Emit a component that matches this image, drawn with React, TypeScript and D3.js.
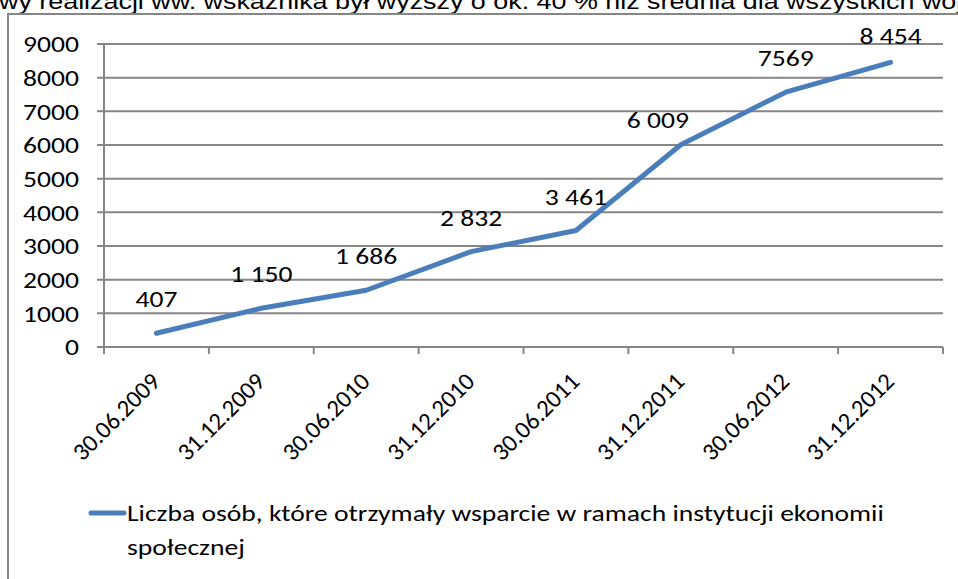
import React from "react";
import * as d3 from "d3";

const categories = [
  "30.06.2009",
  "31.12.2009",
  "30.06.2010",
  "31.12.2010",
  "30.06.2011",
  "31.12.2011",
  "30.06.2012",
  "31.12.2012",
];
const values = [407, 1150, 1686, 2832, 3461, 6009, 7569, 8454];
const valueLabels = ["407", "1 150", "1 686", "2 832", "3 461", "6 009", "7569", "8 454"];
const yTicks = [0, 1000, 2000, 3000, 4000, 5000, 6000, 7000, 8000, 9000];
const seriesName = "Liczba osób, które otrzymały wsparcie w ramach instytucji ekonomii";
const seriesName2 = "społecznej";
const topText = "wy realizacji ww. wskaźnika był wyższy o ok. 40 % niż średnia dla wszystkich woj";
// label offsets (dx, dy) relative to point, as placed in the source
const labelDx = [0, 0, 0, 0, 0, -23, 0, 0];
const labelDy = [-26, -26, -26, -26, -25, -17, -26, -18];

const W = 958;
const H = 579;
const LEFT = 104;
const RIGHT = 943;
const TOP = 44;
const BOTTOM = 347;
const FONT = "Carlito, Calibri, 'Open Sans', sans-serif";
const GRID = "#868686";
const BLUE = "#4A7EBB";
const SX = 1.2; // horizontal stretch of the source rendering
const FS = 23;

function T(props: {
  x: number;
  y: number;
  anchor?: string;
  dy?: string;
  size?: number;
  family?: string;
  children: React.ReactNode;
}) {
  return (
    <text
      transform={`translate(${props.x},${props.y}) scale(${SX},1)`}
      dy={props.dy}
      textAnchor={props.anchor || "start"}
      fontFamily={props.family || FONT}
      fontSize={props.size || FS}
      fill="#000"
    >
      {props.children}
    </text>
  );
}

export default function App() {
  const x = d3.scaleBand<string>().domain(categories).range([LEFT, RIGHT]).padding(0);
  const y = d3.scaleLinear().domain([0, 9000]).range([BOTTOM, TOP]);
  const cx = (c: string) => (x(c) as number) + x.bandwidth() / 2;
  const line = d3
    .line<number>()
    .x((_, i) => cx(categories[i]))
    .y((d) => y(d));
  const boundaries = categories.map((c) => x(c) as number).concat([RIGHT]);

  return (
    <svg
      width={W}
      height={H}
      style={{ position: "absolute", left: 0, top: 0, background: "#fff" }}
    >
      <T x={-1} y={9} size={22.4} family="'Liberation Sans', Arial, sans-serif">
        {topText}
      </T>
      {/* chart frame */}
      <rect x={8} y={14} width={W + 20} height={H + 20} fill="#fff" stroke={GRID} strokeWidth={2} />

      {/* gridlines */}
      {yTicks.map((t) => (
        <line key={t} x1={97} x2={RIGHT} y1={y(t)} y2={y(t)} stroke={GRID} strokeWidth={2} />
      ))}
      {/* y axis */}
      <line x1={LEFT} x2={LEFT} y1={TOP} y2={BOTTOM + 7} stroke={GRID} strokeWidth={2} />
      {/* x ticks */}
      {boundaries.map((b, i) => (
        <line key={i} x1={b} x2={b} y1={BOTTOM} y2={BOTTOM + 7} stroke={GRID} strokeWidth={2} />
      ))}

      {/* y tick labels */}
      {yTicks.map((t) => (
        <T key={t} x={79} y={y(t)} dy="0.36em" anchor="end">
          {t}
        </T>
      ))}

      {/* x tick labels */}
      {categories.map((c) => (
        <text
          key={c}
          transform={`translate(${cx(c) + 5},${BOTTOM + 36}) rotate(-45)`}
          textAnchor="end"
          fontFamily={FONT}
          fontSize={24.5}
          fill="#000"
        >
          {c}
        </text>
      ))}

      {/* series */}
      <path
        d={line(values) as string}
        fill="none"
        stroke={BLUE}
        strokeWidth={5}
        strokeLinecap="round"
        strokeLinejoin="round"
      />

      {/* data labels */}
      {values.map((v, i) => (
        <T key={i} x={cx(categories[i]) + labelDx[i]} y={y(v) + labelDy[i]} anchor="middle">
          {valueLabels[i]}
        </T>
      ))}

      {/* legend */}
      <line x1={91} x2={124} y1={513} y2={513} stroke={BLUE} strokeWidth={5} strokeLinecap="round" />
      <T x={127} y={521}>
        {seriesName}
      </T>
      <T x={127} y={555}>
        {seriesName2}
      </T>
    </svg>
  );
}
